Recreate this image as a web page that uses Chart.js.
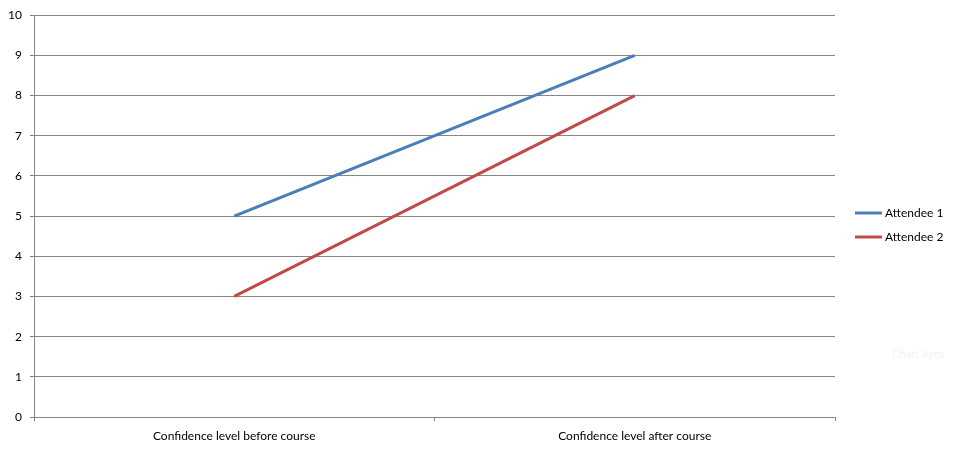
<!DOCTYPE html>
<html>
<head>
<meta charset="utf-8">
<script src="https://cdn.jsdelivr.net/npm/chart.js@4/dist/chart.umd.min.js"></script>
<style>
  body { margin: 0; background: #fff; }
  canvas { display: block; }
</style>
</head>
<body>
<canvas id="myChart" width="956" height="450"></canvas>
<script>
const categories = ["Confidence level before course", "Confidence level after course"];
const attendee1 = [5, 9];
const attendee2 = [3, 8];
const yTicks = [0, 1, 2, 3, 4, 5, 6, 7, 8, 9, 10];

const FONT = "Lato";
const gridColor = "#868686";

// legend drawn by hand so it sits where Excel put it
const sideLegend = {
    id: "sideLegend",
    afterDraw(chart) {
        const c = chart.ctx;
        const x0 = 855;
        const midY = 225;
        const step = 24;
        const sets = chart.data.datasets;
        const startY = midY - (sets.length - 1) * step / 2;
        c.save();
        c.font = "12px " + FONT;
        c.textBaseline = "middle";
        c.fillStyle = "#000";
        sets.forEach((ds, i) => {
            const y = startY + i * step;
            c.strokeStyle = ds.borderColor;
            c.lineWidth = 3;
            c.beginPath();
            c.moveTo(x0, y);
            c.lineTo(x0 + 27, y);
            c.stroke();
            c.fillText(ds.label, x0 + 30, y);
        });
        // faint "Chart Area" hover label left in the screenshot
        c.fillStyle = "#f2f2f2";
        c.font = "11px " + FONT;
        c.fillText("Chart Area", 892, 354);
        c.restore();
    }
};

new Chart(document.getElementById("myChart"), {
    type: "line",
    data: {
        labels: categories,
        datasets: [
            {
                label: "Attendee 1",
                data: attendee1,
                borderColor: "#4a7ebb",
                backgroundColor: "#4a7ebb",
                borderWidth: 3,
                pointRadius: 0,
                tension: 0
            },
            {
                label: "Attendee 2",
                data: attendee2,
                borderColor: "#be4b48",
                backgroundColor: "#be4b48",
                borderWidth: 3,
                pointRadius: 0,
                tension: 0
            }
        ]
    },
    options: {
        responsive: false,
        animation: false,
        layout: { padding: { left: 0, top: 14, right: 121, bottom: 0 } },
        plugins: {
            legend: { display: false },
            tooltip: { enabled: false }
        },
        scales: {
            x: {
                offset: true,
                grid: {
                    offset: true,
                    drawOnChartArea: false,
                    drawTicks: true,
                    tickLength: 4,
                    color: gridColor
                },
                border: { color: gridColor },
                ticks: {
                    color: "#000",
                    font: { family: FONT, size: 12 },
                    padding: 8,
                    maxRotation: 0
                },
                afterFit(scale) { scale.height = 33; }
            },
            y: {
                min: 0,
                max: 10,
                grid: { color: gridColor, tickLength: 4 },
                border: { color: gridColor },
                ticks: {
                    stepSize: 1,
                    color: "#000",
                    font: { family: FONT, size: 12 },
                    padding: 8,
                    callback: (v) => yTicks.includes(v) ? v : null
                },
                afterFit(scale) { scale.width = 34; }
            }
        }
    },
    plugins: [sideLegend]
});
</script>
</body>
</html>
